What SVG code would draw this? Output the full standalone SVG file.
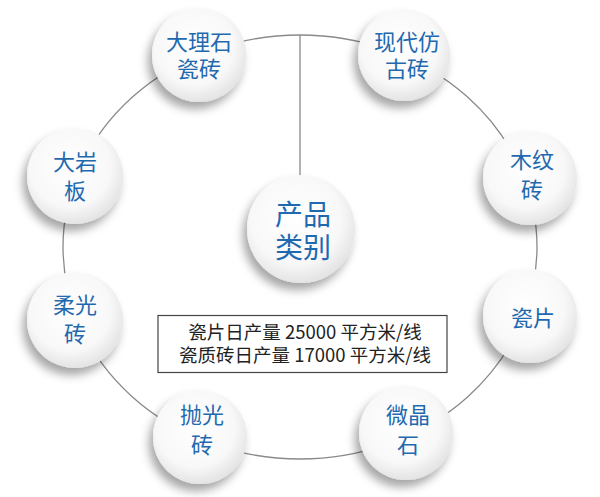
<svg xmlns="http://www.w3.org/2000/svg" width="600" height="497" viewBox="0 0 600 497">
<defs>
<radialGradient id="g" cx="0.45" cy="0.4" r="0.6">
<stop offset="0" stop-color="#ffffff"/>
<stop offset="0.7" stop-color="#f8f8f8"/>
<stop offset="1" stop-color="#e4e4e4"/>
</radialGradient>
<filter id="sh" x="-40%" y="-40%" width="180%" height="180%">
<feDropShadow dx="-4" dy="7" stdDeviation="5" flood-color="#000" flood-opacity="0.35"/>
</filter>
<style>
.n{fill:url(#g);filter:url(#sh);}
.t{font-family:"Noto Sans CJK SC","Noto Sans",sans-serif;fill:#1f69b0;text-anchor:middle;font-size:22px;}
.c{font-size:28px;}
.ln{fill:none;stroke:#8a8a8a;stroke-width:1.3;}
.b{font-family:"Noto Sans CJK SC","Noto Sans",sans-serif;fill:#222;text-anchor:middle;font-size:18.5px;}
</style>
</defs>
<rect width="600" height="497" fill="#fff"/>
<g id="connectors">
<ellipse class="ln" cx="300" cy="247" rx="237" ry="212"/>
<line class="ln" x1="300" y1="35" x2="300" y2="180"/>
</g>
<g id="n-center"><circle class="n" cx="301" cy="229" r="54"/><text class="t c" x="303" y="225">产品</text><text class="t c" x="303" y="258">类别</text></g>
<g id="n-marble"><circle class="n" cx="199" cy="55" r="47"/><text class="t" x="199" y="50">大理石</text><text class="t" x="199" y="77">瓷砖</text></g>
<g id="n-antique"><circle class="n" cx="404" cy="55" r="46"/><text class="t" x="407" y="50">现代仿</text><text class="t" x="407" y="77">古砖</text></g>
<g id="n-slab"><circle class="n" cx="75" cy="176" r="48"/><text class="t" x="75" y="170">大岩</text><text class="t" x="75" y="199">板</text></g>
<g id="n-wood"><circle class="n" cx="530" cy="178" r="47"/><text class="t" x="532" y="168">木纹</text><text class="t" x="532" y="198">砖</text></g>
<g id="n-soft"><circle class="n" cx="75" cy="320" r="48"/><text class="t" x="75" y="313">柔光</text><text class="t" x="75" y="342">砖</text></g>
<g id="n-tile"><circle class="n" cx="530" cy="316" r="47"/><text class="t" x="533" y="326">瓷片</text></g>
<g id="n-polish"><circle class="n" cx="200" cy="437" r="47"/><text class="t" x="202" y="423">抛光</text><text class="t" x="202" y="453">砖</text></g>
<g id="n-crystal"><circle class="n" cx="406" cy="433" r="47"/><text class="t" x="408" y="423">微晶</text><text class="t" x="408" y="453">石</text></g>
<g id="note">
<rect x="158" y="315.5" width="289" height="57" fill="#fff" stroke="#444" stroke-width="1.2"/>
<text class="b" x="305" y="339">瓷片日产量 25000 平方米/线</text>
<text class="b" x="305" y="362">瓷质砖日产量 17000 平方米/线</text>
</g>
</svg>
